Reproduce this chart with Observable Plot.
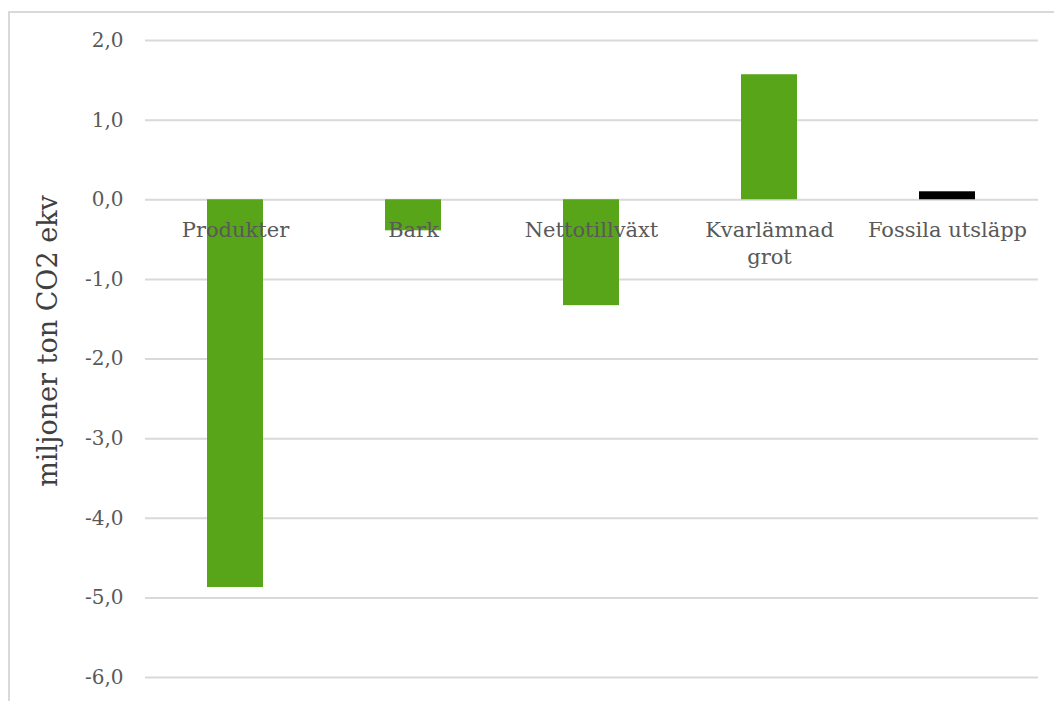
<!DOCTYPE html>
<html>
<head>
<meta charset="utf-8">
<script src="https://cdn.jsdelivr.net/npm/d3@7"></script>
<script src="https://cdn.jsdelivr.net/npm/@observablehq/plot@0.6"></script>
<style>
  html, body { margin: 0; padding: 0; background: #fff; }
  #wrap { position: relative; width: 1054px; height: 701px; overflow: hidden; }
  #frame { position: absolute; left: 8px; top: 11px; width: 1100px; height: 800px;
           border-left: 2px solid #d9d9d9; border-top: 2px solid #d9d9d9; }
  #chart { position: absolute; left: 0; top: 0; }
</style>
</head>
<body>
<div id="wrap"><div id="frame"></div><div id="chart"></div></div>
<script>
const categories = ["Produkter", "Bark", "Nettotillväxt", "Kvarlämnad\ngrot", "Fossila utsläpp"];
const values = [-4.87, -0.39, -1.33, 1.57, 0.10];
const barColors = ["#58a51a", "#58a51a", "#58a51a", "#58a51a", "#000000"];
const yTicks = [-6, -5, -4, -3, -2, -1, 0, 1, 2];
const yLabel = "miljoner ton CO2 ekv";

const data = categories.map((c, i) => ({cat: c, value: values[i], color: barColors[i]}));
const fmt = v => v.toFixed(1).replace(".", ",");
const font = "'DejaVu Serif', 'Liberation Serif', serif";

const chart = Plot.plot({
  width: 1054,
  height: 701,
  marginTop: 40,
  marginBottom: 24,
  marginLeft: 145,
  marginRight: 16,
  style: {fontFamily: font, fontSize: "20px", color: "#595959", background: "transparent"},
  x: {domain: categories, paddingInner: 0.685, paddingOuter: 0.3425, axis: null},
  y: {domain: [-6, 2], ticks: yTicks, tickFormat: fmt, label: null},
  marks: [
    Plot.gridY(yTicks, {stroke: "#d9d9d9", strokeOpacity: 1, strokeWidth: 2}),
    Plot.barY(data, {x: "cat", y: "value", fill: "color"}),
    Plot.axisY(yTicks, {tickSize: 0, tickPadding: 22, tickFormat: fmt, fontSize: 20, fill: "#595959", label: null}),
    Plot.text(data, {x: "cat", y: () => 0, text: "cat", dy: 18, lineAnchor: "top", fontSize: 21, fill: "#595959", lineHeight: 1.3}),
    Plot.text([yLabel], {frameAnchor: "left", textAnchor: "middle", dx: -97, dy: -18, rotate: -90, text: d => d, fontSize: 27, fill: "#404040"})
  ]
});
document.getElementById("chart").appendChild(chart);
</script>
</body>
</html>
